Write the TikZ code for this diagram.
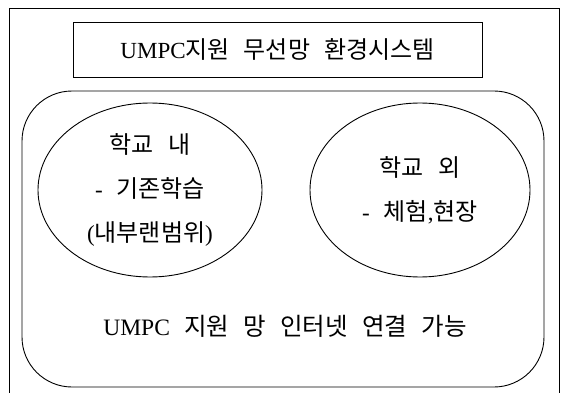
\documentclass[tikz,border=0pt]{standalone}
\usepackage{fontspec}
\setmainfont{Noto Sans CJK KR}[WordSpace={2.6,0,0}]
\newfontfamily\lat{Liberation Serif}[Scale=0.96]
\usetikzlibrary{shapes.geometric}
\tikzset{
  line/.style={draw=black, line width=0.9pt},
  txt/.style={font=\fontsize{24}{44}\selectfont, inner sep=0pt, align=center},
  oval/.style={line, ellipse, inner sep=0pt, txt},
}
\begin{document}
\begin{tikzpicture}[x=1pt, y=-1pt]
  \useasboundingbox (0,0) rectangle (562,393);
  % outer frame (open at the bottom)
  \coordinate (fbl) at (9,393);
  \coordinate (ftl) at (9,8);
  \coordinate (ftr) at (559,8);
  \coordinate (fbr) at (559,393);
  \draw[line, line width=0.8pt] (fbl) -- (ftl) -- (ftr) -- (fbr);
  % title box
  \node[line, rectangle, minimum width=409pt, minimum height=55pt, txt] (title) at (277.5,49.5)
    {{\lat UMPC}지원 무선망 환경시스템};
  % rounded area
  \node[line, rectangle, rounded corners=50pt, minimum width=522pt, minimum height=296pt] (area) at (283,239) {};
  % ellipses
  \node[oval, minimum width=224pt, minimum height=174pt] (inside) at (150,190)
    {학교 내\\{\lat -} 기존학습\\{\lat (}내부랜범위{\lat )}};
  \node[oval, minimum width=220pt, minimum height=174pt] (outside) at (420,190)
    {학교 외\\{\lat -} 체험{\lat ,}현장};
  % bottom text
  \node[txt, font=\fontsize{24.5}{28}\selectfont] (net) at (285,326) {{\lat UMPC} 지원 망 인터넷 연결 가능};
\end{tikzpicture}
\end{document}
